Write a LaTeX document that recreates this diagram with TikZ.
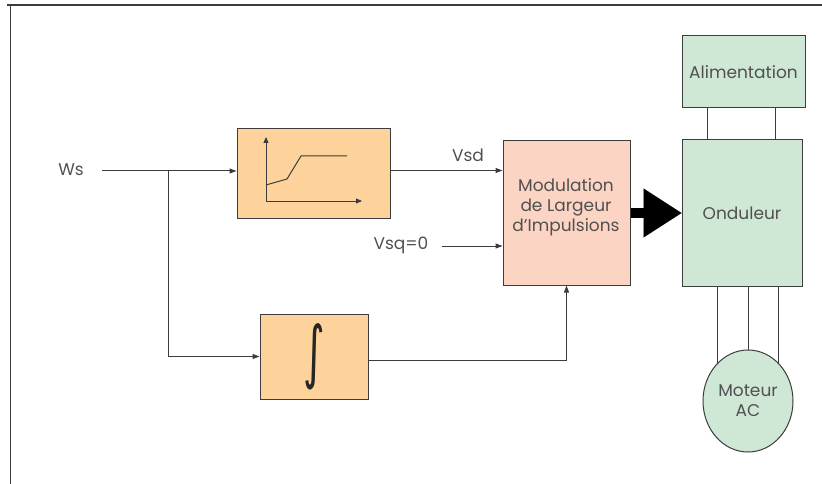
\documentclass[tikz,border=0pt]{standalone}
\usepackage{fontspec}
\setmainfont{Poppins}
\newfontfamily\symfont{DejaVu Sans}
\usetikzlibrary{arrows.meta,positioning,shapes.geometric,backgrounds}
\definecolor{rampfill}{HTML}{FDD39B}
\definecolor{pwmfill}{HTML}{FCD4C3}
\definecolor{ondfill}{HTML}{CFE8D6}
\definecolor{linegray}{HTML}{3C3C3C}
\definecolor{txtgray}{HTML}{505050}
\tikzset{
  blk/.style={draw=linegray, rectangle, line width=1pt, inner sep=0pt,
              font=\fontsize{17}{20}\selectfont, text=txtgray, align=center},
  opblock/.style={blk, fill=rampfill},
  pwmblock/.style={blk, fill=pwmfill},
  hwblock/.style={blk, fill=ondfill},
  motorblock/.style={blk, ellipse, fill=ondfill},
  lbl/.style={font=\fontsize{17}{20}\selectfont, text=txtgray, inner sep=0pt},
  sig/.style={draw=linegray, line width=1pt, -{Triangle[length=7pt,width=5pt]}},
  wire/.style={draw=linegray, line width=1pt},
  bigarrow/.style={draw=black, line width=10pt,
                   -{Triangle[length=38pt,width=49pt,line width=0.1pt]}},
}
\begin{document}
\begin{tikzpicture}[x=1pt,y=-1pt]
  \useasboundingbox (0,0) rectangle (822,484);
  % frame
  \draw[wire, line width=1.3pt] (7,5) -- (822,5);
  \draw[wire, line width=1.3pt] (10.5,5) -- (10.5,484);

  % blocks
  \node[opblock, minimum width=108pt, minimum height=85pt] (integ) at (314,356.5)
    {\raisebox{4pt}{\scalebox{0.8}[1.32]{\symfont\fontsize{52}{52}\selectfont\textcolor{black!85}{∫}}}};
  \node[opblock, minimum width=153pt, minimum height=89pt] (ramp) at (313.5,173.5) {};
  \node[pwmblock, minimum width=127pt, minimum height=144pt] (pwm) at (566.5,213) {};
  \node[lbl, align=center] (pwmtxt) at (566,207) {Modulation\\de Largeur\\d'Impulsions};
  \node[hwblock, minimum width=120pt, minimum height=146pt] (ond) at (742,213) {Onduleur};
  \node[hwblock, minimum width=123pt, minimum height=72pt] (alim) at (743.5,72) {Alimentation};
  \node[motorblock, minimum width=90pt, minimum height=102pt] (motor) at (748,401) {Moteur\\AC};

  % ramp characteristic
  \draw[wire, -{Triangle[length=6pt,width=5pt]}] (266,201) -- (266,137);
  \draw[wire, -{Triangle[length=6pt,width=5pt]}] (266,201) -- (362,201);
  \draw[wire] (266,185) -- (287,179) -- (301,156) -- (347,156);

  % inputs
  \node[lbl] (ws) at (71,170) {Ws};
  \node[lbl] (vsd) at (468,155) {Vsd};
  \node[lbl] (vsq) at (401,245) {Vsq=0};
  \coordinate (wsin) at (102,171);
  \coordinate (br) at (168,171);
  \coordinate (vsqin) at (442,246);

  \draw[sig] (wsin) -- (wsin -| ramp.west);
  \draw[sig] (br) |- (integ.west);
  \draw[sig] ([yshift=3pt]ramp.east) -- ([yshift=3pt]ramp.east -| pwm.west);
  \draw[sig] (vsqin) -- (vsqin -| pwm.west);
  \draw[sig] ([yshift=-4pt]integ.east) -| (pwm.south);
  \draw[bigarrow] (pwm.east) -- (ond.west);

  % supply and motor wires
  \draw[wire] ([xshift=-36pt]alim.south) -- ([xshift=-36pt]alim.south |- ond.north);
  \draw[wire] ([xshift=32pt]alim.south) -- ([xshift=32pt]alim.south |- ond.north);
  \begin{scope}[on background layer]
    \foreach \dx in {-25,6,36}
      \draw[wire] ([xshift=\dx pt]ond.south) -- ([xshift=\dx pt]ond.south |- motor.center);
  \end{scope}
\end{tikzpicture}
\end{document}
